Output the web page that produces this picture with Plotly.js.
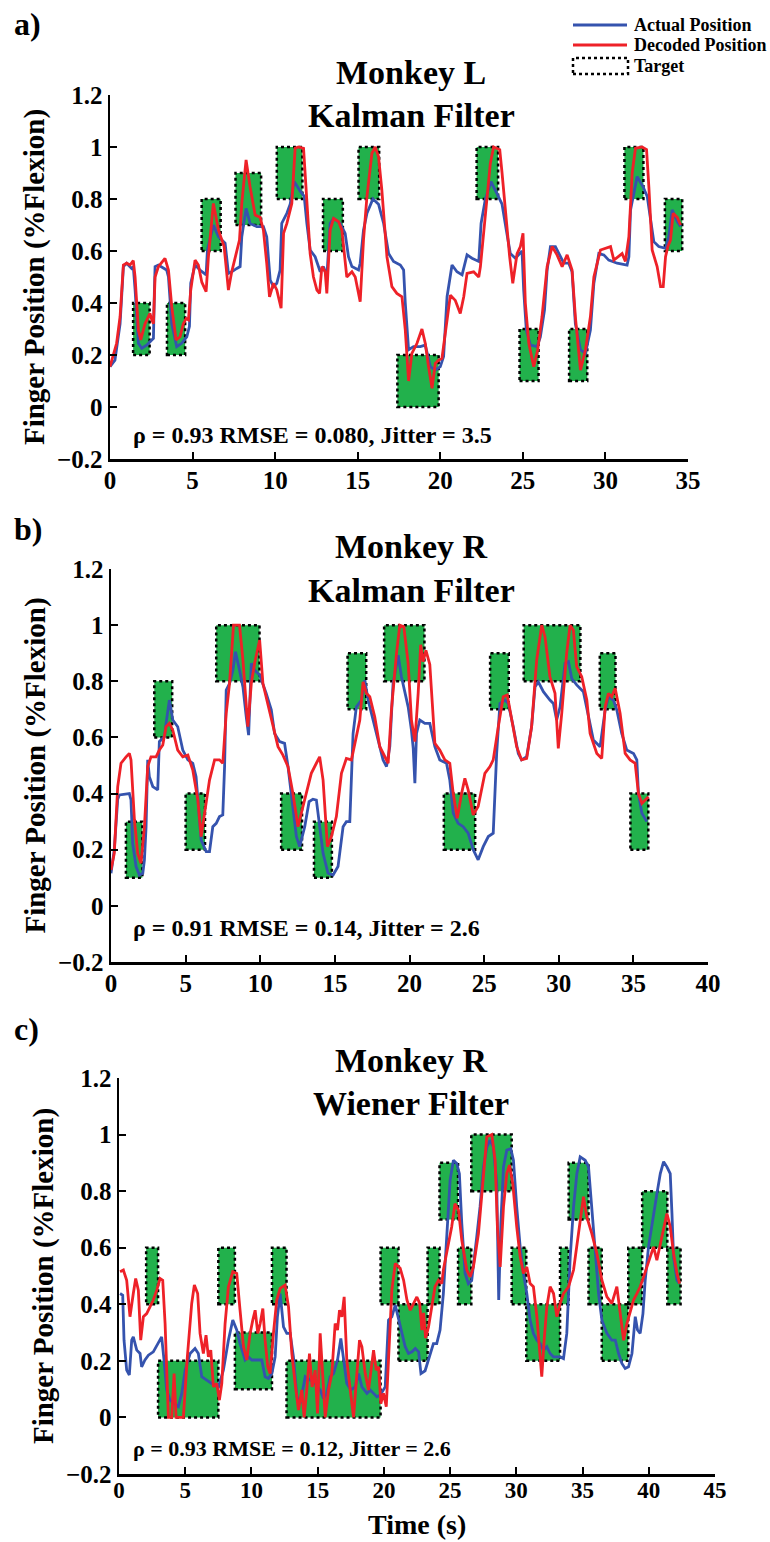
<!DOCTYPE html>
<html><head><meta charset="utf-8">
<script src="https://cdn.plot.ly/plotly-3.0.1.min.js"></script>
<style>html,body{margin:0;padding:0;background:#fff}</style>
</head><body>
<div id="chart" style="width:770px;height:1542px"></div>
<script>
// ---------- DATA (time in s, finger position as fraction of flexion) ----------
const aActual = [[0,0.155],[0.30,0.18],[0.61,0.32],[0.81,0.54],[1.01,0.553],[1.31,0.533],[1.41,0.54],[1.52,0.45],[1.72,0.245],[1.92,0.226],[2.22,0.238],[2.63,0.264],[2.69,0.45],[2.73,0.54],[2.93,0.546],[3.43,0.527],[3.54,0.50],[3.74,0.32],[4.04,0.232],[4.34,0.245],[4.65,0.27],[4.81,0.31],[4.89,0.476],[5.15,0.546],[5.45,0.527],[5.82,0.508],[5.90,0.604],[6.26,0.70],[6.57,0.655],[6.97,0.63],[7.17,0.514],[7.37,0.52],[7.68,0.533],[7.88,0.54],[7.98,0.655],[8.24,0.764],[8.48,0.706],[8.89,0.694],[9.29,0.694],[9.49,0.655],[9.70,0.488],[9.90,0.463],[10.10,0.476],[10.30,0.527],[10.40,0.706],[10.71,0.745],[10.91,0.78],[11.15,0.867],[11.52,0.83],[11.76,0.81],[11.92,0.706],[12.12,0.604],[12.42,0.578],[12.73,0.52],[12.93,0.54],[13.13,0.50],[13.33,0.706],[13.54,0.725],[13.94,0.706],[14.24,0.668],[14.44,0.578],[14.65,0.54],[15.05,0.527],[15.15,0.553],[15.35,0.68],[15.56,0.745],[15.92,0.80],[16.26,0.78],[16.57,0.706],[16.87,0.59],[17.17,0.56],[17.58,0.546],[17.78,0.527],[17.88,0.40],[18.08,0.22],[18.38,0.232],[18.79,0.232],[19.09,0.238],[19.40,0.155],[19.70,0.142],[20.0,0.155],[20.20,0.194],[20.41,0.424],[20.71,0.546],[21.01,0.52],[21.32,0.508],[21.62,0.585],[21.92,0.572],[22.33,0.56],[22.47,0.706],[22.73,0.80],[23.07,0.867],[23.44,0.82],[23.74,0.78],[24.0,0.68],[24.24,0.59],[24.55,0.572],[24.95,0.60],[25.05,0.45],[25.21,0.296],[25.46,0.238],[25.86,0.232],[26.06,0.27],[26.31,0.373],[26.47,0.527],[26.67,0.617],[26.97,0.617],[27.27,0.578],[27.48,0.553],[27.78,0.553],[27.98,0.52],[28.18,0.32],[28.49,0.22],[28.79,0.206],[29.09,0.296],[29.30,0.476],[29.60,0.59],[29.90,0.585],[30.20,0.565],[30.71,0.553],[31.31,0.546],[31.42,0.578],[31.52,0.758],[31.92,0.886],[32.28,0.847],[32.53,0.81],[32.73,0.72],[32.93,0.636],[33.23,0.617],[33.64,0.61],[33.84,0.655],[34.04,0.758],[34.35,0.713],[34.55,0.694]];
const aDecoded = [[0,0.155],[0.40,0.245],[0.61,0.347],[0.81,0.546],[1.01,0.553],[1.21,0.546],[1.41,0.563],[1.52,0.50],[1.72,0.296],[1.86,0.258],[2.12,0.32],[2.42,0.36],[2.53,0.335],[2.63,0.32],[2.73,0.50],[2.93,0.54],[3.33,0.572],[3.54,0.527],[3.74,0.386],[4.0,0.258],[4.24,0.27],[4.44,0.32],[4.61,0.34],[4.75,0.335],[4.89,0.45],[5.15,0.565],[5.35,0.546],[5.56,0.48],[5.82,0.444],[5.96,0.578],[6.26,0.783],[6.57,0.68],[6.91,0.617],[7.17,0.45],[7.37,0.52],[7.64,0.59],[7.84,0.642],[7.98,0.783],[8.24,0.95],[8.48,0.847],[8.79,0.738],[9.09,0.73],[9.29,0.68],[9.49,0.553],[9.66,0.424],[9.90,0.476],[10.10,0.45],[10.36,0.38],[10.51,0.668],[10.71,0.706],[11.01,0.783],[11.21,0.995],[11.41,1.0],[11.72,0.995],[11.92,0.80],[12.12,0.59],[12.32,0.50],[12.53,0.45],[12.69,0.437],[12.83,0.54],[13.03,0.52],[13.13,0.437],[13.33,0.68],[13.54,0.725],[13.84,0.713],[14.04,0.68],[14.34,0.50],[14.65,0.52],[14.85,0.50],[15.15,0.405],[15.35,0.642],[15.56,0.81],[15.86,0.976],[16.06,1.0],[16.26,0.963],[16.46,0.835],[16.77,0.578],[17.07,0.463],[17.37,0.437],[17.68,0.424],[17.88,0.296],[18.08,0.10],[18.28,0.206],[18.59,0.245],[18.89,0.30],[19.09,0.245],[19.29,0.155],[19.50,0.072],[19.70,0.168],[19.90,0.18],[20.10,0.187],[20.31,0.296],[20.61,0.43],[20.91,0.41],[21.21,0.36],[21.42,0.424],[21.62,0.514],[22.02,0.52],[22.33,0.50],[22.43,0.54],[22.63,0.68],[22.83,0.80],[23.03,0.937],[23.23,1.0],[23.60,0.99],[23.74,0.90],[24.0,0.706],[24.20,0.578],[24.39,0.476],[24.65,0.59],[24.85,0.617],[25.01,0.668],[25.15,0.40],[25.36,0.245],[25.66,0.155],[25.90,0.22],[26.16,0.347],[26.47,0.54],[26.77,0.617],[27.07,0.585],[27.38,0.54],[27.68,0.585],[27.98,0.527],[28.18,0.347],[28.49,0.142],[28.79,0.22],[29.09,0.347],[29.30,0.50],[29.70,0.604],[30.0,0.61],[30.31,0.617],[30.51,0.565],[30.81,0.578],[31.01,0.59],[31.21,0.56],[31.42,0.655],[31.62,0.90],[31.82,0.995],[32.22,1.0],[32.49,0.99],[32.63,0.847],[32.83,0.604],[33.13,0.54],[33.34,0.463],[33.50,0.463],[33.64,0.578],[33.78,0.617],[33.94,0.642],[34.10,0.745],[34.35,0.73],[34.55,0.70]];
// targets: [start, end, low, high]
const aTargets = [[1.4,2.4,0.2,0.4],[3.45,4.55,0.2,0.4],[5.55,6.7,0.6,0.8],[7.6,9.15,0.7,0.9],[10.1,11.65,0.8,1.0],[12.9,14.1,0.6,0.8],[15.05,16.3,0.8,1.0],[17.4,19.9,0,0.2],[22.2,23.5,0.8,1.0],[24.8,25.95,0.1,0.3],[27.8,28.9,0.1,0.3],[31.15,32.3,0.8,1.0],[33.6,34.65,0.6,0.8]];

const bActual = [[0,0.116],[0.22,0.20],[0.45,0.38],[0.56,0.395],[1.23,0.40],[1.34,0.377],[1.45,0.223],[1.68,0.14],[1.90,0.11],[2.13,0.116],[2.24,0.164],[2.35,0.282],[2.46,0.52],[2.57,0.46],[2.80,0.425],[3.13,0.413],[3.24,0.585],[3.58,0.603],[3.69,0.65],[3.91,0.733],[4.14,0.662],[4.47,0.638],[4.81,0.555],[5.15,0.52],[5.48,0.508],[5.70,0.46],[6.04,0.235],[6.38,0.193],[6.60,0.193],[6.82,0.282],[7.05,0.294],[7.27,0.318],[7.49,0.324],[7.61,0.496],[7.72,0.769],[7.94,0.792],[8.17,0.84],[8.34,0.905],[8.61,0.84],[8.84,0.78],[9.06,0.674],[9.22,0.608],[9.40,0.864],[9.62,0.84],[9.96,0.822],[10.40,0.757],[10.74,0.698],[10.96,0.614],[11.30,0.585],[11.63,0.579],[11.86,0.496],[12.19,0.354],[12.42,0.247],[12.64,0.211],[12.98,0.282],[13.27,0.371],[13.53,0.38],[13.76,0.377],[13.98,0.282],[14.21,0.187],[14.54,0.116],[14.88,0.11],[15.21,0.14],[15.55,0.282],[15.77,0.30],[16.0,0.30],[16.22,0.614],[16.44,0.709],[16.78,0.733],[17.0,0.804],[17.23,0.733],[17.56,0.662],[17.90,0.591],[18.23,0.52],[18.46,0.496],[18.68,0.567],[18.90,0.792],[19.24,0.893],[19.46,0.816],[19.69,0.757],[19.91,0.709],[20.13,0.626],[20.25,0.561],[20.36,0.437],[20.47,0.614],[20.69,0.662],[21.03,0.65],[21.36,0.65],[21.47,0.626],[21.70,0.567],[22.03,0.52],[22.48,0.508],[22.70,0.448],[22.93,0.33],[23.26,0.294],[23.60,0.282],[23.93,0.259],[24.27,0.20],[24.60,0.164],[24.94,0.211],[25.28,0.247],[25.61,0.259],[25.84,0.543],[26.06,0.721],[26.39,0.733],[26.62,0.721],[26.95,0.638],[27.29,0.543],[27.51,0.52],[27.85,0.531],[28.18,0.638],[28.41,0.78],[28.63,0.798],[28.97,0.763],[29.41,0.733],[29.64,0.721],[29.86,0.662],[30.09,0.709],[30.42,0.864],[30.65,0.87],[30.87,0.81],[31.20,0.787],[31.65,0.763],[31.99,0.674],[32.32,0.591],[32.77,0.567],[33.11,0.698],[33.33,0.745],[33.66,0.733],[33.89,0.698],[34.22,0.614],[34.56,0.555],[35.01,0.543],[35.23,0.52],[35.34,0.40],[35.57,0.33],[35.90,0.30]];
const bDecoded = [[0,0.128],[0.22,0.187],[0.45,0.425],[0.67,0.508],[1.01,0.531],[1.23,0.543],[1.34,0.52],[1.57,0.306],[1.79,0.187],[2.01,0.152],[2.24,0.282],[2.46,0.496],[2.68,0.531],[3.02,0.531],[3.24,0.555],[3.47,0.573],[3.69,0.638],[3.91,0.65],[4.14,0.626],[4.47,0.555],[4.81,0.531],[5.15,0.537],[5.48,0.484],[5.82,0.377],[6.04,0.247],[6.26,0.33],[6.60,0.448],[6.94,0.52],[7.27,0.52],[7.49,0.508],[7.72,0.686],[7.94,0.792],[8.21,1.0],[8.61,1.0],[8.84,0.875],[9.17,0.638],[9.40,0.792],[9.62,0.864],[9.96,0.947],[10.18,0.792],[10.51,0.721],[10.85,0.638],[11.19,0.567],[11.52,0.537],[11.86,0.496],[12.19,0.40],[12.53,0.282],[12.75,0.33],[13.09,0.40],[13.42,0.472],[13.76,0.508],[13.98,0.531],[14.21,0.448],[14.50,0.211],[14.77,0.247],[15.10,0.318],[15.44,0.472],[15.77,0.525],[16.11,0.52],[16.33,0.579],[16.67,0.662],[16.89,0.798],[17.11,0.757],[17.34,0.745],[17.67,0.674],[18.01,0.567],[18.34,0.531],[18.57,0.508],[18.79,0.698],[19.13,0.90],[19.35,1.0],[19.62,0.994],[19.91,0.864],[20.13,0.662],[20.36,0.585],[20.58,0.757],[20.75,0.93],[20.91,0.87],[21.10,0.91],[21.36,0.86],[21.70,0.579],[22.03,0.555],[22.37,0.52],[22.70,0.508],[22.93,0.40],[23.20,0.312],[23.49,0.40],[23.71,0.454],[23.93,0.413],[24.27,0.324],[24.60,0.354],[25.05,0.472],[25.39,0.496],[25.61,0.52],[25.95,0.638],[26.28,0.745],[26.55,0.751],[26.84,0.662],[27.18,0.567],[27.51,0.52],[27.85,0.525],[28.18,0.638],[28.52,0.875],[28.86,1.0],[29.08,0.958],[29.41,0.816],[29.75,0.757],[29.97,0.561],[30.20,0.686],[30.53,0.90],[30.76,1.0],[30.98,0.982],[31.20,0.852],[31.54,0.816],[31.88,0.733],[32.10,0.614],[32.55,0.543],[32.88,0.525],[33.11,0.709],[33.33,0.757],[33.55,0.745],[33.78,0.775],[34.11,0.686],[34.45,0.543],[34.78,0.52],[35.12,0.508],[35.34,0.40],[35.57,0.365],[35.79,0.377],[36.01,0.389]];
const bTargets = [[1.0,2.1,0.1,0.3],[2.9,4.1,0.6,0.8],[5.0,6.3,0.2,0.4],[7.05,9.95,0.8,1.0],[11.4,12.8,0.2,0.4],[13.6,14.8,0.1,0.3],[15.85,17.1,0.7,0.9],[18.3,21.0,0.8,1.0],[22.3,24.4,0.2,0.4],[25.4,26.65,0.7,0.9],[27.65,31.45,0.8,1.0],[32.75,33.8,0.7,0.9],[34.8,36.0,0.2,0.4]];

const cActual = [[0.08,0.438],[0.28,0.432],[0.38,0.273],[0.58,0.167],[0.78,0.15],[0.96,0.273],[1.08,0.285],[1.34,0.238],[1.59,0.226],[1.71,0.179],[1.96,0.203],[2.22,0.22],[2.59,0.232],[2.97,0.267],[3.22,0.285],[3.40,0.203],[3.60,0.097],[3.85,0.061],[4.23,0.049],[4.48,0.038],[4.74,0.085],[4.99,0.167],[5.37,0.226],[5.74,0.244],[5.99,0.226],[6.25,0.144],[6.62,0.132],[7.0,0.12],[7.51,0.108],[7.88,0.167],[8.26,0.273],[8.59,0.344],[8.89,0.309],[9.14,0.261],[9.52,0.203],[9.77,0.214],[10.03,0.203],[10.40,0.203],[10.78,0.203],[11.03,0.144],[11.28,0.138],[11.54,0.155],[11.79,0.214],[11.96,0.356],[12.17,0.438],[12.42,0.32],[12.67,0.297],[12.92,0.297],[13.17,0.214],[13.43,0.073],[13.68,0.049],[14.06,0.144],[14.43,0.132],[14.81,0.12],[15.19,0.097],[15.44,0.067],[15.69,0.085],[15.94,0.144],[16.20,0.155],[16.50,0.203],[16.75,0.279],[16.95,0.203],[17.20,0.12],[17.51,0.097],[17.83,0.108],[18.09,0.155],[18.34,0.108],[18.72,0.085],[18.97,0.097],[19.22,0.085],[19.47,0.073],[19.72,0.079],[20.10,0.108],[20.35,0.344],[20.60,0.356],[20.86,0.397],[21.11,0.344],[21.36,0.297],[21.61,0.25],[21.86,0.226],[22.12,0.232],[22.37,0.244],[22.62,0.232],[22.80,0.155],[23.11,0.165],[23.36,0.203],[23.74,0.261],[23.99,0.261],[24.24,0.309],[24.49,0.438],[24.75,0.627],[25.0,0.839],[25.25,0.909],[25.50,0.898],[25.70,0.862],[25.88,0.686],[26.13,0.509],[26.38,0.473],[26.63,0.485],[26.76,0.532],[27.01,0.638],[27.26,0.744],[27.52,0.886],[27.77,0.956],[28.02,0.98],[28.27,0.956],[28.52,0.827],[28.67,0.415],[28.83,0.686],[29.03,0.886],[29.28,0.945],[29.58,0.95],[29.78,0.909],[30.03,0.744],[30.29,0.603],[30.54,0.509],[30.79,0.438],[31.04,0.344],[31.29,0.297],[31.55,0.273],[31.80,0.261],[32.05,0.238],[32.30,0.25],[32.55,0.226],[32.81,0.214],[33.31,0.214],[33.56,0.208],[33.81,0.297],[34.07,0.568],[34.32,0.744],[34.57,0.862],[34.82,0.921],[35.20,0.909],[35.45,0.886],[35.70,0.744],[35.95,0.58],[36.21,0.438],[36.46,0.344],[36.84,0.297],[37.21,0.273],[37.47,0.273],[37.72,0.226],[37.97,0.191],[38.22,0.173],[38.47,0.179],[38.73,0.226],[38.98,0.356],[39.15,0.309],[39.35,0.297],[39.56,0.367],[39.73,0.485],[39.98,0.603],[40.24,0.674],[40.61,0.79],[40.87,0.862],[41.12,0.904],[41.37,0.886],[41.62,0.862],[41.75,0.721],[41.87,0.568],[42.13,0.485],[42.33,0.473]];
const cDecoded = [[0.08,0.515],[0.33,0.521],[0.58,0.485],[0.83,0.356],[1.08,0.438],[1.26,0.491],[1.46,0.45],[1.64,0.273],[1.84,0.356],[2.09,0.367],[2.34,0.391],[2.59,0.415],[2.85,0.45],[3.10,0.491],[3.30,0.485],[3.48,0.332],[3.73,0.0],[3.98,0.0],[4.16,0.155],[4.31,0.0],[4.86,0.0],[5.16,0.214],[5.49,0.403],[5.69,0.468],[5.94,0.438],[6.12,0.297],[6.37,0.226],[6.57,0.291],[6.75,0.214],[6.93,0.238],[7.13,0.108],[7.38,0.12],[7.58,0.061],[7.76,0.12],[8.01,0.332],[8.26,0.462],[8.59,0.515],[8.89,0.509],[9.14,0.379],[9.40,0.25],[9.65,0.203],[9.90,0.297],[10.10,0.344],[10.28,0.379],[10.48,0.297],[10.66,0.332],[10.86,0.385],[11.03,0.273],[11.23,0.179],[11.41,0.155],[11.66,0.297],[11.91,0.415],[12.17,0.456],[12.54,0.468],[12.80,0.391],[13.05,0.226],[13.30,0.12],[13.55,0.026],[13.80,0.097],[13.98,0.0],[14.18,0.097],[14.38,0.226],[14.58,0.108],[14.81,0.167],[14.99,0.014],[15.19,0.297],[15.39,0.144],[15.57,0.0],[15.82,0.097],[16.07,0.155],[16.32,0.332],[16.50,0.309],[16.65,0.379],[16.83,0.356],[17.0,0.426],[17.20,0.203],[17.46,0.097],[17.71,0.0],[17.96,0.155],[18.16,0.273],[18.34,0.25],[18.59,0.155],[18.84,0.097],[19.04,0.167],[19.22,0.238],[19.42,0.167],[19.60,0.179],[19.77,0.049],[19.97,0.085],[20.18,0.038],[20.35,0.214],[20.60,0.45],[20.86,0.544],[21.23,0.527],[21.49,0.485],[21.74,0.415],[21.99,0.379],[22.24,0.403],[22.49,0.426],[22.70,0.403],[22.87,0.309],[23.0,0.37],[23.15,0.28],[23.37,0.32],[23.86,0.462],[24.12,0.485],[24.37,0.473],[24.49,0.521],[24.75,0.58],[25.12,0.674],[25.37,0.756],[25.63,0.733],[25.88,0.627],[26.26,0.521],[26.51,0.497],[26.76,0.532],[27.14,0.65],[27.52,0.862],[27.77,0.992],[28.15,1.0],[28.40,0.909],[28.57,0.674],[28.78,0.532],[29.03,0.744],[29.28,0.862],[29.48,0.892],[29.73,0.827],[30.03,0.674],[30.29,0.568],[30.54,0.509],[30.79,0.532],[31.04,0.473],[31.29,0.462],[31.55,0.356],[31.80,0.203],[31.92,0.144],[32.10,0.273],[32.30,0.391],[32.55,0.462],[32.81,0.438],[33.06,0.356],[33.31,0.403],[33.56,0.438],[33.94,0.462],[34.32,0.521],[34.69,0.65],[35.07,0.78],[35.32,0.709],[35.70,0.65],[36.08,0.58],[36.46,0.485],[36.84,0.426],[37.21,0.403],[37.59,0.462],[37.84,0.367],[38.10,0.273],[38.35,0.332],[38.60,0.379],[38.85,0.415],[39.10,0.438],[39.35,0.462],[39.61,0.497],[39.86,0.532],[40.11,0.568],[40.36,0.603],[40.61,0.556],[40.87,0.615],[41.12,0.662],[41.37,0.721],[41.62,0.674],[41.87,0.58],[42.13,0.509],[42.33,0.473]];
const cTargets = [[2.05,2.95,0.4,0.6],[2.95,7.5,0,0.2],[7.5,8.75,0.4,0.6],[8.75,11.55,0.1,0.3],[11.55,12.65,0.4,0.6],[12.65,19.75,0,0.2],[19.75,21.1,0.4,0.6],[21.1,23.3,0.2,0.4],[23.3,24.2,0.4,0.6],[24.2,25.6,0.7,0.9],[25.6,26.6,0.4,0.6],[26.6,29.65,0.8,1.0],[29.65,30.75,0.4,0.6],[30.75,33.3,0.2,0.4],[33.3,33.95,0.4,0.6],[33.95,35.45,0.7,0.9],[35.45,36.45,0.4,0.6],[36.45,38.45,0.2,0.4],[38.45,39.5,0.4,0.6],[39.5,41.4,0.6,0.8],[41.4,42.4,0.4,0.6]];

const panelLabels = ['a)', 'b)', 'c)'];
const monkeys = ['Monkey L', 'Monkey R', 'Monkey R'];
const filters = ['Kalman Filter', 'Kalman Filter', 'Wiener Filter'];
const stats = ['\u03C1 = 0.93 RMSE = 0.080, Jitter = 3.5', '\u03C1 = 0.91 RMSE = 0.14, Jitter = 2.6', '\u03C1 = 0.93 RMSE = 0.12, Jitter = 2.6'];
const xMax = [35, 40, 45];
const yTickVals = [-0.2, 0, 0.2, 0.4, 0.6, 0.8, 1, 1.2];
const legendNames = ['Actual Position', 'Decoded Position', 'Target'];
const yTitle = 'Finger Position (%Flexion)';
const xTitle = 'Time (s)';

// ---------- STYLE / LAYOUT ----------
const FONT = '"Liberation Serif", "Times New Roman", Times, serif';
const BLUE = '#3553ae', RED = '#ee2128', GREEN = '#22b14c';
const W = 770, H = 1542;
const px = v => v / W, py = v => 1 - v / H;
const f = (size) => ({family: FONT, size: size, color: '#000', weight: 'bold'});

const panels = [
  {act: aActual, dec: aDecoded, tg: aTargets, xd: [110, 688], yd: [95, 459], title: [72, 116], stat: 435, label: 24, xfont: 25, xstand: -3},
  {act: bActual, dec: bDecoded, tg: bTargets, xd: [111, 708], yd: [569, 962], title: [546, 590], stat: 928, label: 529, xfont: 25, xstand: -3},
  {act: cActual, dec: cDecoded, tg: cTargets, xd: [119, 715], yd: [1078, 1474], title: [1060, 1103], stat: 1448, label: 1029, xfont: 23, xstand: -6}
];

const traces = [], shapes = [], annotations = [];
const layout = {
  width: W, height: H, margin: {l: 0, r: 0, t: 0, b: 0},
  paper_bgcolor: '#fff', plot_bgcolor: 'rgba(0,0,0,0)', showlegend: false,
  font: f(20)
};

panels.forEach((p, i) => {
  const n = i === 0 ? '' : String(i + 1);
  const xr = 'x' + n, yr = 'y' + n;
  traces.push({type: 'scatter', mode: 'lines', name: legendNames[0], x: p.act.map(d => d[0]), y: p.act.map(d => d[1]),
    xaxis: xr, yaxis: yr, line: {color: BLUE, width: 2.8}, hoverinfo: 'skip'});
  traces.push({type: 'scatter', mode: 'lines', name: legendNames[1], x: p.dec.map(d => d[0]), y: p.dec.map(d => d[1]),
    xaxis: xr, yaxis: yr, line: {color: RED, width: 2.8}, hoverinfo: 'skip'});
  p.tg.forEach(t => shapes.push({type: 'rect', xref: xr, yref: yr, x0: t[0], x1: t[1], y0: t[2], y1: t[3],
    fillcolor: GREEN, line: {color: '#000', width: 2.5, dash: '3px,3px'}, layer: 'below'}));

  layout['xaxis' + n] = {
    domain: [px(p.xd[0]), px(p.xd[1])], range: [0, xMax[i]], anchor: yr,
    tick0: 0, dtick: 5, showline: true, linewidth: 2.5, linecolor: '#000', mirror: false,
    ticks: 'inside', ticklen: 7, tickwidth: 2, tickcolor: '#000', showgrid: false, zeroline: false,
    tickfont: f(p.xfont), ticklabelstandoff: p.xstand, fixedrange: true
  };
  layout['yaxis' + n] = {
    domain: [py(p.yd[1]), py(p.yd[0])], range: [-0.2, 1.2], anchor: xr,
    tickvals: yTickVals, showline: true, linewidth: 2.5, linecolor: '#000', mirror: false,
    ticks: 'inside', ticklen: 7, tickwidth: 2, tickcolor: '#000', showgrid: false, zeroline: false,
    tickfont: f(25), fixedrange: true,
    title: {text: yTitle, font: f(29), standoff: 4}
  };

  const cx = px(411);
  annotations.push({xref: 'paper', yref: 'paper', x: cx, y: py(p.title[0]), text: monkeys[i], showarrow: false,
    xanchor: 'center', yanchor: 'middle', font: f(34)});
  annotations.push({xref: 'paper', yref: 'paper', x: cx, y: py(p.title[1]), text: filters[i], showarrow: false,
    xanchor: 'center', yanchor: 'middle', font: f(34)});
  annotations.push({xref: 'paper', yref: 'paper', x: px(131), y: py(p.stat), text: stats[i], showarrow: false,
    xanchor: 'left', yanchor: 'middle', font: f(i === 2 ? 22 : 24)});
  annotations.push({xref: 'paper', yref: 'paper', x: px(12), y: py(p.label), text: panelLabels[i], showarrow: false,
    xanchor: 'left', yanchor: 'middle', font: f(32)});
});

// x-axis title of the bottom panel
annotations.push({xref: 'paper', yref: 'paper', x: px(417), y: py(1524), text: xTitle, showarrow: false,
  xanchor: 'center', yanchor: 'middle', borderpad: 0, font: f(28)});

// legend (top right)
const legY = [25, 45, 66];
shapes.push({type: 'line', xref: 'paper', yref: 'paper', x0: px(573), x1: px(627), y0: py(legY[0]), y1: py(legY[0]), line: {color: BLUE, width: 2.8}});
shapes.push({type: 'line', xref: 'paper', yref: 'paper', x0: px(573), x1: px(627), y0: py(legY[1]), y1: py(legY[1]), line: {color: RED, width: 2.8}});
shapes.push({type: 'rect', xref: 'paper', yref: 'paper', x0: px(573), x1: px(628), y0: py(74), y1: py(58), fillcolor: '#fff', line: {color: '#000', width: 2.5, dash: '3px,3px'}});
legendNames.forEach((t, k) => annotations.push({xref: 'paper', yref: 'paper', x: px(632), y: py(legY[k]), text: t, showarrow: false,
  xanchor: 'left', yanchor: 'middle', font: f(18)}));

layout.shapes = shapes;
layout.annotations = annotations;
Plotly.newPlot('chart', traces, layout, {displayModeBar: false, staticPlot: true});
</script>
</body></html>
